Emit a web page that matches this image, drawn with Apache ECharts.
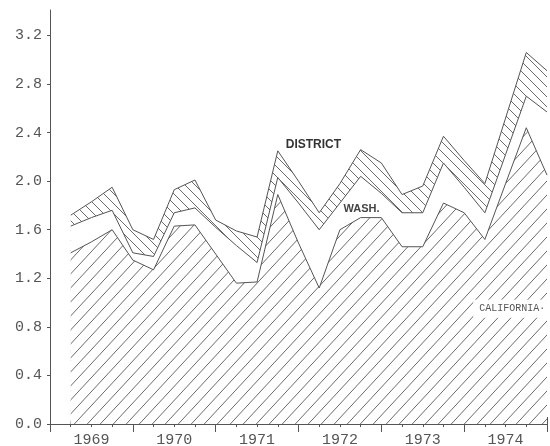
<!DOCTYPE html>
<html><head><meta charset="utf-8">
<script src="https://cdn.jsdelivr.net/npm/echarts@6/dist/echarts.min.js"></script>
<style>html,body{margin:0;padding:0;background:#fff}#c{width:550px;height:446px}</style>
</head><body><div id="c"></div>
<script>
// Quarter positions (year fraction)
const quarters = [1969.25,1969.5,1969.75,1970.0,1970.25,1970.5,1970.75,1971.0,1971.25,1971.5,1971.75,1972.0,
                  1972.25,1972.5,1972.75,1973.0,1973.25,1973.5,1973.75,1974.0,1974.25,1974.5,1974.75,1975.0];
const district   = [1.72,1.83,1.95,1.60,1.52,1.93,2.01,1.68,1.59,1.54,2.25,2.00,1.74,1.98,2.26,2.15,1.89,1.96,2.37,2.17,1.98,2.52,3.06,2.91];
const wash       = [1.63,1.70,1.76,1.41,1.38,1.74,1.78,1.62,1.47,1.33,2.03,1.82,1.60,1.82,2.04,1.90,1.74,1.74,2.15,1.95,1.74,2.22,2.70,2.57];
const california = [1.41,1.50,1.60,1.35,1.27,1.63,1.64,1.40,1.16,1.17,1.89,1.49,1.12,1.60,1.70,1.70,1.46,1.46,1.82,1.74,1.52,1.98,2.44,2.05];
const yTicks = [0,0.4,0.8,1.2,1.6,2.0,2.4,2.8,3.2];
const yearLabels = ['1969','1970','1971','1972','1973','1974'];
const seriesNames = ['DISTRICT','WASH.','CALIFORNIA'];

function hatch(w, h, dir, color) {
  const c = document.createElement('canvas');
  c.width = w; c.height = h;
  const g = c.getContext('2d');
  g.fillStyle = '#fff'; g.fillRect(0, 0, w, h);
  g.strokeStyle = color; g.lineWidth = 1;
  for (let k = -1; k <= 1; k++) {
    g.beginPath();
    if (dir === '/') { g.moveTo(k*w - w, 2*h); g.lineTo(k*w + 2*w, -h); }
    else { g.moveTo(k*w - w, -h); g.lineTo(k*w + 2*w, 2*h); }
    g.stroke();
  }
  return {image: c, repeat: 'repeat'};
}
const pair = arr => quarters.map((q, i) => [q, arr[i]]);
const LINE = '#555';
const FONT = 'Liberation Mono';

const baseX = {type:'value', min:1969, max:1975, position:'bottom', gridIndex:0,
  splitLine:{show:false}, axisLine:{show:false}, axisLabel:{show:false}};

const chart = echarts.init(document.getElementById('c'), null, {renderer:'canvas'});
chart.setOption({
  backgroundColor:'#fff',
  animation:false,
  grid:{left:50, right:3, top:10, bottom:22, containLabel:false, outerBoundsMode:'none'},
  xAxis:[
    Object.assign({}, baseX, {interval:0.25,
      axisLine:{show:true, onZero:false, lineStyle:{color:LINE, width:1}},
      axisTick:{show:true, length:3, inside:false, lineStyle:{color:LINE}},
      axisLabel:{show:true, margin:9, fontFamily:FONT, fontSize:15, color:'#555',
        formatter: v => {
          const f = v - Math.floor(v);
          if (Math.abs(f - 0.5) < 1e-6) { const idx = Math.floor(v) - 1969; return yearLabels[idx] || ''; }
          return '';
        }}}),
    Object.assign({}, baseX, {interval:0.25, axisTick:{show:true, length:3, inside:true, lineStyle:{color:LINE}}}),
    Object.assign({}, baseX, {interval:1, axisTick:{show:true, length:8, inside:false, lineStyle:{color:LINE}}}),
    Object.assign({}, baseX, {interval:1, axisTick:{show:true, length:7, inside:true, lineStyle:{color:LINE}}})
  ],
  yAxis:{type:'value', min:0, max:3.41,
    splitLine:{show:false},
    axisLine:{show:true, lineStyle:{color:LINE, width:1}},
    axisTick:{show:true, length:3, inside:false, customValues:yTicks, lineStyle:{color:LINE}},
    axisLabel:{show:true, margin:8, customValues:yTicks, fontFamily:FONT, fontSize:15, color:'#555',
      formatter: v => v.toFixed(1)}},
  series:[
    {name:seriesNames[0], type:'line', xAxisIndex:0, data:pair(district), symbol:'none', z:2, silent:true,
      lineStyle:{color:LINE, width:1}, areaStyle:{color:hatch(10,10,'\\','#6a6a6a'), opacity:1}},
    {name:seriesNames[1], type:'line', xAxisIndex:0, data:pair(wash), symbol:'none', z:3, silent:true,
      lineStyle:{color:LINE, width:1}, areaStyle:{color:'#fff', opacity:1}},
    {name:seriesNames[2], type:'line', xAxisIndex:0, data:pair(california), symbol:'none', z:4, silent:true,
      lineStyle:{color:LINE, width:1}, areaStyle:{color:hatch(13,14,'/','#6a6a6a'), opacity:1},
      markPoint:{symbol:'rect', symbolSize:0, silent:true, animation:false,
        data:[
          {coord:[1972.18, 2.30], value:'DISTRICT',
            label:{show:true, position:'inside', formatter:'DISTRICT', fontFamily:'Liberation Sans', fontWeight:'bold', fontSize:12, color:'#333'}},
          {coord:[1972.76, 1.775], value:'WASH.',
            label:{show:true, position:'inside', formatter:'WASH.', fontFamily:'Liberation Sans', fontWeight:'bold', fontSize:11, color:'#444'}},
          {coord:[1974.58, 0.95], value:'CALIFORNIA',
            label:{show:true, position:'inside', formatter:'CALIFORNIA·', fontFamily:FONT, fontSize:10, color:'#555',
              backgroundColor:'#fff', padding:[4,6,4,6]}}
        ]}}
  ]
});
</script></body></html>
